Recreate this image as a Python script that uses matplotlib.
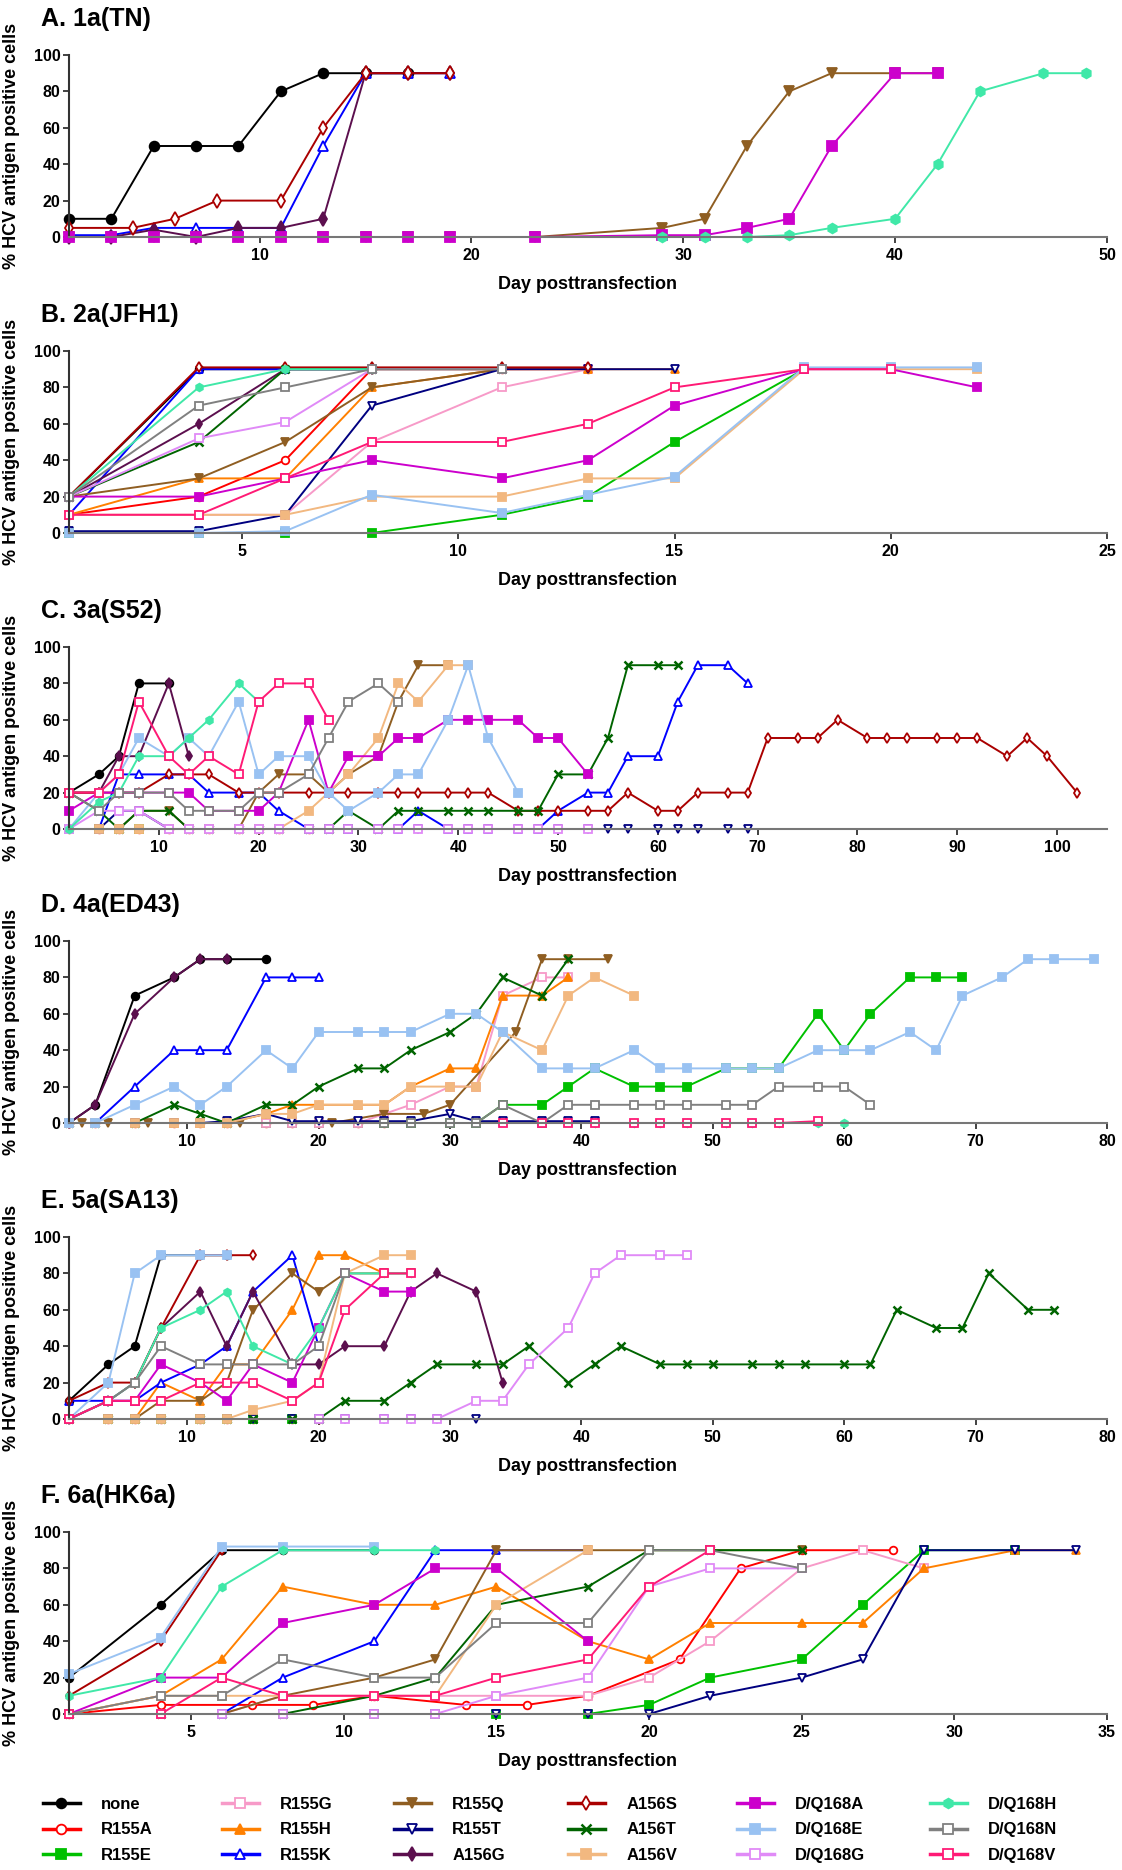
import matplotlib
matplotlib.use('Agg')
import matplotlib.pyplot as plt
from matplotlib.lines import Line2D

plt.rcParams['font.family'] = ['Liberation Sans', 'DejaVu Sans']
plt.rcParams['font.weight'] = 'bold'

strains = ['none', 'R155A', 'R155E', 'R155G', 'R155H', 'R155K', 'R155Q', 'R155T', 'A156G',
           'A156S', 'A156T', 'A156V', 'D/Q168A', 'D/Q168E', 'D/Q168G', 'D/Q168H', 'D/Q168N', 'D/Q168V']

# (colour, marker, filled)
style = {
    'none':    ('#000000', 'o', True),
    'R155A':   ('#ff0000', 'o', False),
    'R155E':   ('#00c000', 's', True),
    'R155G':   ('#f79ac8', 's', False),
    'R155H':   ('#ff8000', '^', True),
    'R155K':   ('#0000ff', '^', False),
    'R155Q':   ('#8f5e22', 'v', True),
    'R155T':   ('#000080', 'v', False),
    'A156G':   ('#5c0f4e', 'd', True),
    'A156S':   ('#aa0000', 'd', False),
    'A156T':   ('#006400', 'x', True),
    'A156V':   ('#f2b880', 's', True),
    'D/Q168A': ('#cc00cc', 's', True),
    'D/Q168E': ('#99c2f2', 's', True),
    'D/Q168G': ('#e08af7', 's', False),
    'D/Q168H': ('#40e8a8', 'h', True),
    'D/Q168N': ('#808080', 's', False),
    'D/Q168V': ('#ff1a75', 's', False),
}

# ---- 1a(TN) ----
tn_1a = {
    'none':    ([1, 3, 5, 7, 9, 11, 13, 15, 17], [10, 10, 50, 50, 50, 80, 90, 90, 90]),
    'A156S':   ([1, 4, 6, 8, 11, 13, 15, 17, 19], [5, 5, 10, 20, 20, 60, 90, 90, 90]),
    'R155K':   ([1, 3, 5, 7, 9, 11, 13, 15, 17, 19], [1, 1, 5, 5, 5, 5, 50, 90, 90, 90]),
    'A156G':   ([1, 3, 5, 7, 9, 11, 13, 15, 17, 19], [0, 0, 4, 0, 5, 5, 10, 90, 90, 90]),
    'R155Q':   ([1, 3, 5, 7, 9, 11, 13, 15, 17, 19, 23, 29, 31, 33, 35, 37, 40, 42],
                [0, 0, 0, 0, 0, 0, 0, 0, 0, 0, 0, 5, 10, 50, 80, 90, 90, 90]),
    'D/Q168A': ([1, 3, 5, 7, 9, 11, 13, 15, 17, 19, 23, 29, 31, 33, 35, 37, 40, 42],
                [0, 0, 0, 0, 0, 0, 0, 0, 0, 0, 0, 1, 1, 5, 10, 50, 90, 90]),
    'D/Q168H': ([29, 31, 33, 35, 37, 40, 42, 44, 47, 49], [0, 0, 0, 1, 5, 10, 40, 80, 90, 90]),
}

# ---- 2a(JFH1) ----
jfh1_2a = {
    'none':    ([1, 4, 6, 8], [20, 90, 90, 90]),
    'R155A':   ([1, 4, 6, 8, 11, 13], [10, 20, 40, 90, 90, 90]),
    'R155E':   ([1, 4, 6, 8, 11, 13, 15, 18], [0, 0, 0, 0, 10, 20, 50, 90]),
    'R155G':   ([1, 4, 6, 8, 11, 13], [10, 10, 10, 50, 80, 90]),
    'R155H':   ([1, 4, 6, 8, 11, 13, 15], [10, 30, 30, 80, 90, 90, 90]),
    'R155K':   ([1, 4, 6, 8], [10, 90, 90, 90]),
    'R155Q':   ([1, 4, 6, 8, 11], [20, 30, 50, 80, 90]),
    'R155T':   ([1, 4, 6, 8, 11, 13, 15], [1, 1, 10, 70, 90, 90, 90]),
    'A156G':   ([1, 4, 6, 8], [20, 60, 90, 90]),
    'A156S':   ([1, 4, 6, 8, 11, 13], [20, 91, 91, 91, 91, 91]),
    'A156T':   ([1, 4, 6, 8, 11], [20, 50, 90, 90, 90]),
    'A156V':   ([1, 4, 6, 8, 11, 13, 15, 18, 20, 22], [10, 10, 10, 20, 20, 30, 30, 90, 90, 90]),
    'D/Q168A': ([1, 4, 6, 8, 11, 13, 15, 18, 20, 22], [20, 20, 30, 40, 30, 40, 70, 90, 90, 80]),
    'D/Q168E': ([1, 4, 6, 8, 11, 13, 15, 18, 20, 22], [0, 0, 1, 21, 11, 21, 31, 91, 91, 91]),
    'D/Q168G': ([1, 4, 6, 8, 11], [20, 52, 61, 90, 90]),
    'D/Q168H': ([1, 4, 6, 8], [20, 80, 90, 90]),
    'D/Q168N': ([1, 4, 6, 8, 11], [20, 70, 80, 90, 90]),
    'D/Q168V': ([1, 4, 6, 8, 11, 13, 15, 18, 20], [10, 10, 30, 50, 50, 60, 80, 90, 90]),
}

# ---- 3a(S52) ----
s52_3a = {
    'none':    ([1, 4, 6, 8, 11], [20, 30, 40, 80, 80]),
    'R155A':   ([1, 4, 6, 8, 11, 13, 15, 18, 20, 22, 25], [0] * 11),
    'R155E':   ([1, 4, 6, 8, 11, 13, 15, 18, 20, 22, 25, 27, 29], [0] * 13),
    'R155H':   ([1, 4, 6, 8, 11, 13, 15, 18, 20, 22, 25], [0] * 11),
    'R155K':   ([1, 4, 6, 8, 11, 13, 15, 18, 20, 22, 25, 27, 29, 32, 34, 36, 39, 41, 43, 46,
                 48, 50, 53, 55, 57, 60, 62, 64, 67, 69],
                [0, 0, 30, 30, 30, 30, 20, 20, 20, 10, 0, 0, 0, 0, 0, 10, 0, 0, 0, 0,
                 0, 10, 20, 20, 40, 40, 70, 90, 90, 80]),
    'R155Q':   ([1, 4, 6, 8, 11, 13, 15, 18, 20, 22, 25, 27, 29, 32, 34, 36, 39],
                [0, 0, 0, 10, 10, 0, 0, 0, 20, 30, 30, 20, 30, 40, 70, 90, 90]),
    'R155T':   ([1, 4, 6, 8, 11, 13, 15, 18, 20, 22, 25, 27, 29, 32, 34, 36, 39, 41, 43, 46,
                 48, 50, 53, 55, 57, 60, 62, 64, 67, 69],
                [0, 0, 10, 10] + [0] * 26),
    'A156G':   ([1, 4, 6, 8, 11, 13], [20, 20, 40, 40, 80, 40]),
    'A156S':   ([1, 4, 6, 8, 11, 13, 15, 18, 20, 22, 25, 27, 29, 32, 34, 36, 39, 41, 43, 46,
                 48, 50, 53, 55, 57, 60, 62, 64, 67, 69, 71, 74, 76, 78, 81, 83, 85, 88, 90, 92,
                 95, 97, 99, 102],
                [20, 20, 20, 20, 30, 30, 30, 20, 20, 20, 20, 20, 20, 20, 20, 20, 20, 20, 20, 10,
                 10, 10, 10, 10, 20, 10, 10, 20, 20, 20, 50, 50, 50, 60, 50, 50, 50, 50, 50, 50,
                 40, 50, 40, 20]),
    'A156T':   ([1, 4, 6, 8, 11, 13, 15, 18, 20, 22, 25, 27, 29, 32, 34, 36, 39, 41, 43, 46,
                 48, 50, 53, 55, 57, 60, 62],
                [20, 10, 0, 10, 10, 0, 0, 0, 0, 0, 0, 0, 10, 0, 10, 10, 10, 10, 10, 10,
                 10, 30, 30, 50, 90, 90, 90]),
    'A156V':   ([1, 4, 6, 8, 11, 13, 15, 18, 20, 22, 25, 27, 29, 32, 34, 36, 39, 41],
                [0, 0, 0, 0, 0, 0, 0, 0, 0, 0, 10, 20, 30, 50, 80, 70, 90, 90]),
    'D/Q168A': ([1, 4, 6, 8, 11, 13, 15, 18, 20, 22, 25, 27, 29, 32, 34, 36, 39, 41, 43, 46,
                 48, 50, 53],
                [10, 20, 20, 20, 20, 20, 10, 10, 10, 20, 60, 20, 40, 40, 50, 50, 60, 60, 60, 60,
                 50, 50, 30]),
    'D/Q168E': ([1, 4, 6, 8, 11, 13, 15, 18, 20, 22, 25, 27, 29, 32, 34, 36, 39, 41, 43, 46],
                [0, 20, 30, 50, 40, 50, 40, 70, 30, 40, 40, 20, 10, 20, 30, 30, 60, 90, 50, 20]),
    'D/Q168G': ([1, 4, 6, 8, 11, 13, 15, 18, 20, 22, 25, 27, 29, 32, 34, 36, 39, 41, 43, 46,
                 48, 50, 53],
                [0, 10, 10, 10] + [0] * 19),
    'D/Q168H': ([1, 4, 6, 8, 11, 13, 15, 18, 20], [0, 15, 20, 40, 40, 50, 60, 80, 70]),
    'D/Q168N': ([1, 4, 6, 8, 11, 13, 15, 18, 20, 22, 25, 27, 29, 32, 34],
                [20, 10, 20, 20, 20, 10, 10, 10, 20, 20, 30, 50, 70, 80, 70]),
    'D/Q168V': ([1, 4, 6, 8, 11, 13, 15, 18, 20, 22, 25, 27],
                [20, 20, 30, 70, 40, 30, 40, 30, 70, 80, 80, 60]),
}

# ---- 4a(ED43) ----
ed43_4a = {
    'none':    ([1, 3, 6, 9, 11, 13, 16], [0, 10, 70, 80, 90, 90, 90]),
    'R155A':   ([1, 3, 6, 9, 11, 13, 16, 18, 20, 23, 25], [0] * 11),
    'R155E':   ([1, 3, 6, 9, 11, 13, 16, 18, 20, 23, 25, 27, 30, 32, 34, 37, 39, 41, 44, 46,
                 48, 51, 53, 55, 58, 60, 62, 65, 67, 69],
                [0] * 14 + [10, 10, 20, 30, 20, 20, 20, 30, 30, 30, 60, 40, 60, 80, 80, 80]),
    'R155G':   ([1, 3, 6, 9, 11, 13, 16, 18, 20, 23, 25, 27, 30, 32, 34, 37, 39],
                [0] * 10 + [5, 10, 20, 20, 70, 80, 80]),
    'R155H':   ([1, 3, 6, 9, 11, 13, 16, 18, 20, 23, 25, 27, 30, 32, 34, 37, 39],
                [0, 0, 0, 0, 0, 0, 5, 10, 10, 10, 10, 20, 30, 30, 70, 70, 80]),
    'R155K':   ([1, 3, 6, 9, 11, 13, 16, 18, 20], [0, 0, 20, 40, 40, 40, 80, 80, 80]),
    'R155Q':   ([1, 2, 4, 7, 14, 21, 25, 28, 30, 35, 37, 39, 42],
                [0, 0, 0, 0, 0, 0, 5, 5, 10, 50, 90, 90, 90]),
    'R155T':   ([1, 3, 6, 9, 11, 13, 16, 18, 20, 23, 25, 27, 30, 32, 34, 37, 39, 41],
                [0, 0, 0, 0, 0, 1, 5, 1, 1, 1, 1, 1, 5, 1, 1, 1, 1, 1]),
    'A156G':   ([1, 3, 6, 9, 11, 13], [0, 10, 60, 80, 90, 90]),
    'A156T':   ([1, 3, 6, 9, 11, 13, 16, 18, 20, 23, 25, 27, 30, 32, 34, 37, 39],
                [0, 0, 0, 10, 5, 0, 10, 10, 20, 30, 30, 40, 50, 60, 80, 70, 90]),
    'A156V':   ([1, 3, 6, 9, 11, 13, 16, 18, 20, 23, 25, 27, 30, 32, 34, 37, 39, 41, 44],
                [0, 0, 0, 0, 0, 0, 5, 5, 10, 10, 10, 20, 20, 20, 50, 40, 70, 80, 70]),
    'D/Q168E': ([1, 3, 6, 9, 11, 13, 16, 18, 20, 23, 25, 27, 30, 32, 34, 37, 39, 41, 44, 46,
                 48, 51, 53, 55, 58, 60, 62, 65, 67, 69, 72, 74, 76, 79],
                [0, 0, 10, 20, 10, 20, 40, 30, 50, 50, 50, 50, 60, 60, 50, 30, 30, 30, 40, 30,
                 30, 30, 30, 30, 40, 40, 40, 50, 40, 70, 80, 90, 90, 90]),
    'D/Q168H': ([41, 44, 46, 48, 51, 53, 55, 58, 60], [0] * 9),
    'D/Q168N': ([25, 27, 30, 32, 34, 37, 39, 41, 44, 46, 48, 51, 53, 55, 58, 60, 62],
                [0, 0, 0, 0, 10, 0, 10, 10, 10, 10, 10, 10, 10, 20, 20, 20, 10]),
    'D/Q168V': ([34, 37, 39, 41, 44, 46, 48, 51, 53, 55, 58], [0] * 10 + [1]),
}

# ---- 5a(SA13) ----
sa13_5a = {
    'none':    ([1, 4, 6, 8, 11, 13], [10, 30, 40, 90, 90, 90]),
    'R155A':   ([1, 4, 6, 8, 11, 13, 15, 18, 20], [0] * 9),
    'R155E':   ([1, 4, 6, 8, 11, 13, 15, 18, 20], [0] * 9),
    'R155H':   ([1, 4, 6, 8, 11, 13, 15, 18, 20, 22, 25], [0, 0, 0, 20, 10, 30, 30, 60, 90, 90, 80]),
    'R155K':   ([1, 4, 6, 8, 11, 13, 15, 18, 20], [10, 10, 10, 20, 30, 40, 70, 90, 40]),
    'R155Q':   ([1, 4, 6, 8, 11, 13, 15, 18, 20, 22, 25, 27],
                [0, 0, 0, 10, 10, 20, 60, 80, 70, 80, 80, 80]),
    'R155T':   ([1, 4, 6, 8, 11, 13, 15, 18, 20, 22, 25, 27, 29, 32], [0] * 14),
    'A156G':   ([1, 4, 6, 8, 11, 13, 15, 18, 20, 22, 25, 27, 29, 32, 34],
                [0, 10, 20, 50, 70, 40, 70, 30, 30, 40, 40, 70, 80, 70, 20]),
    'A156S':   ([1, 4, 6, 8, 11, 13, 15], [10, 20, 20, 50, 90, 90, 90]),
    'A156T':   ([1, 4, 6, 8, 11, 13, 15, 18, 20, 22, 25, 27, 29, 32, 34, 36, 39, 41, 43, 46,
                 48, 50, 53, 55, 57, 60, 62, 64, 67, 69, 71, 74, 76],
                [0] * 9 + [10, 10, 20, 30, 30, 30, 40, 20, 30, 40, 30,
                           30, 30, 30, 30, 30, 30, 30, 60, 50, 50, 80, 60, 60]),
    'A156V':   ([1, 4, 6, 8, 11, 13, 15, 18, 20, 22, 25, 27], [0, 0, 0, 0, 0, 0, 5, 10, 20, 80, 90, 90]),
    'D/Q168A': ([1, 4, 6, 8, 11, 13, 15, 18, 20, 22, 25, 27],
                [0, 10, 10, 30, 20, 10, 30, 20, 50, 80, 70, 70]),
    'D/Q168E': ([1, 4, 6, 8, 11, 13], [0, 20, 80, 90, 90, 90]),
    'D/Q168G': ([20, 22, 25, 27, 29, 32, 34, 36, 39, 41, 43, 46, 48],
                [0, 0, 0, 0, 0, 10, 10, 30, 50, 80, 90, 90, 90]),
    'D/Q168H': ([1, 4, 6, 8, 11, 13, 15, 18, 20, 22, 25, 27],
                [0, 10, 20, 50, 60, 70, 40, 30, 50, 80, 80, 80]),
    'D/Q168N': ([1, 4, 6, 8, 11, 13, 15, 18, 20, 22], [0, 10, 20, 40, 30, 30, 30, 30, 40, 80]),
    'D/Q168V': ([1, 4, 6, 8, 11, 13, 15, 18, 20, 22, 25, 27],
                [0, 10, 10, 10, 20, 20, 20, 10, 20, 60, 80, 80]),
}

# ---- 6a(HK6a) ----
hk6a_6a = {
    'none':    ([1, 4, 6, 8, 11], [20, 60, 90, 90, 90]),
    'R155A':   ([1, 4, 7, 9, 11, 14, 16, 18, 21, 23, 25, 28], [0, 5, 5, 5, 10, 5, 5, 10, 30, 80, 90, 90]),
    'R155E':   ([1, 4, 6, 8, 11, 13, 15, 18, 20, 22, 25, 27, 29, 32],
                [0, 0, 0, 0, 0, 0, 0, 0, 5, 20, 30, 60, 90, 90]),
    'R155G':   ([1, 4, 6, 8, 11, 13, 15, 18, 20, 22, 25, 27, 29],
                [0, 0, 0, 10, 10, 10, 10, 10, 20, 40, 80, 90, 80]),
    'R155H':   ([1, 4, 6, 8, 11, 13, 15, 18, 20, 22, 25, 27, 29, 32, 34],
                [0, 10, 30, 70, 60, 60, 70, 40, 30, 50, 50, 50, 80, 90, 90]),
    'R155K':   ([1, 4, 6, 8, 11, 13, 15, 18], [0, 0, 0, 20, 40, 90, 90, 90]),
    'R155Q':   ([1, 4, 6, 8, 11, 13, 15, 18, 20, 22, 25], [0, 0, 0, 10, 20, 30, 90, 90, 90, 90, 90]),
    'R155T':   ([1, 4, 6, 8, 11, 13, 15, 18, 20, 22, 25, 27, 29, 32, 34],
                [0, 0, 0, 0, 0, 0, 0, 0, 0, 10, 20, 30, 90, 90, 90]),
    'A156S':   ([1, 4, 6], [10, 40, 90]),
    'A156T':   ([1, 4, 6, 8, 11, 13, 15, 18, 20, 22, 25], [0, 0, 0, 0, 10, 20, 60, 70, 90, 90, 90]),
    'A156V':   ([1, 4, 6, 8, 11, 13, 15, 18], [0, 10, 10, 10, 10, 10, 60, 90]),
    'D/Q168A': ([1, 4, 6, 8, 11, 13, 15, 18], [0, 20, 20, 50, 60, 80, 80, 40]),
    'D/Q168E': ([1, 4, 6, 8, 11], [22, 42, 92, 92, 92]),
    'D/Q168G': ([1, 4, 6, 8, 11, 13, 15, 18, 20, 22, 25], [0, 0, 0, 0, 0, 0, 10, 20, 70, 80, 80]),
    'D/Q168H': ([1, 4, 6, 8, 11, 13], [10, 20, 70, 90, 90, 90]),
    'D/Q168N': ([1, 4, 6, 8, 11, 13, 15, 18, 20, 22, 25], [0, 10, 10, 30, 20, 20, 50, 50, 90, 90, 80]),
    'D/Q168V': ([1, 4, 6, 8, 11, 13, 15, 18, 20, 22], [0, 0, 20, 10, 10, 10, 20, 30, 70, 90]),
}

titles = ['A. 1a(TN)', 'B. 2a(JFH1)', 'C. 3a(S52)', 'D. 4a(ED43)', 'E. 5a(SA13)', 'F. 6a(HK6a)']
panel_data = [tn_1a, jfh1_2a, s52_3a, ed43_4a, sa13_5a, hk6a_6a]
x_max = [50, 25, 105, 80, 80, 35]
x_ticks = [range(10, 51, 10), range(5, 26, 5), range(10, 101, 10),
           range(10, 81, 10), range(10, 81, 10), range(5, 36, 5)]

W, H = 1122, 1870
fig = plt.figure(figsize=(W / 100, H / 100), dpi=100)

ax_left, ax_w, ax_h = 69, 1038, 182
ax_tops = [55, 351, 647, 941, 1237, 1532]


def line_kw(name, ms):
    c, m, filled = style[name]
    kw = dict(color=c, marker=m, markersize=ms, markeredgecolor=c, lw=1.4, markeredgewidth=1.3)
    if m == 'x':
        kw['markeredgewidth'] = 1.8
    elif not filled:
        kw['markerfacecolor'] = 'white'
    else:
        kw['markerfacecolor'] = c
    return kw


for i, data in enumerate(panel_data):
    top = ax_tops[i]
    ax = fig.add_axes([ax_left / W, 1 - (top + ax_h) / H, ax_w / W, ax_h / H])
    ms = 7 if i == 0 else 5.5
    for name in strains:
        if name not in data:
            continue
        days, vals = data[name]
        ax.plot(days, vals, clip_on=False, **line_kw(name, ms))

    ax.set_xlim(1, x_max[i])
    ax.set_ylim(0, 100)
    ax.set_xticks(list(x_ticks[i]))
    ax.set_yticks(range(0, 101, 20))
    for s in ['top', 'right']:
        ax.spines[s].set_visible(False)
    ax.spines['left'].set_color('#333333')
    ax.spines['bottom'].set_color('#777777')
    ax.spines['left'].set_linewidth(1.5)
    ax.spines['bottom'].set_linewidth(1.5)
    ax.tick_params(labelsize=11.5, length=4, width=1.3, pad=2, colors='#333333', labelcolor='black')
    ax.tick_params(axis='x', pad=4)
    for lbl in ax.get_xticklabels() + ax.get_yticklabels():
        lbl.set_fontweight('bold')

    ax.set_ylabel('% HCV antigen positive cells', fontsize=13, fontweight='bold')
    ax.yaxis.set_label_coords(-(ax_left - 20) / ax_w, 0.5)
    ax.set_xlabel('Day posttransfection', fontsize=13, fontweight='bold')
    ax.xaxis.set_label_coords(0.5, -39 / ax_h)
    ax.text(-(ax_left - 41) / ax_w, 1 + 36 / ax_h, titles[i], transform=ax.transAxes,
            fontsize=18, fontweight='bold', ha='left', va='center')

# legend: six columns of three entries
col_x = [43, 222, 394, 568, 737, 930]
handles = [Line2D([], [], **dict(line_kw(n, 7), lw=2.5)) for n in strains]
for k in range(6):
    fig.legend(handles[3 * k:3 * k + 3], strains[3 * k:3 * k + 3],
               loc='upper left', bbox_to_anchor=(col_x[k] / W, 1 - 1797 / H),
               frameon=False, prop={'size': 12, 'weight': 'bold'},
               handlelength=2.2, handletextpad=1.3, labelspacing=0.62, borderpad=0, borderaxespad=0)

fig.savefig('out.png', dpi=100)
